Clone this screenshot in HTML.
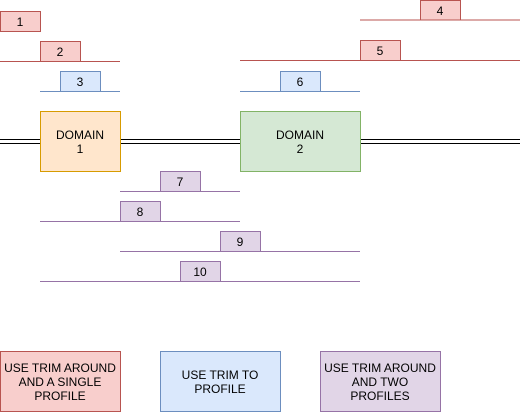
<!DOCTYPE html>
<html><head><meta charset="utf-8"><style>
html,body{margin:0;padding:0;background:#fff;}
svg{display:block;}
text{font-family:"Liberation Sans",Arial,sans-serif;font-size:12px;fill:#000;text-anchor:middle;}
</style></head><body>
<svg width="523" height="413" viewBox="0 0 523 413" xmlns="http://www.w3.org/2000/svg">
<g fill="none" stroke-width="1">
<line x1="0" y1="61.5" x2="120" y2="61.5" stroke="#b85450"/>
<line x1="40" y1="91.5" x2="120" y2="91.5" stroke="#6c8ebf"/>
<line x1="360" y1="20" x2="520" y2="20" stroke="#b85450"/>
<line x1="240" y1="60.5" x2="520" y2="60.5" stroke="#b85450"/>
<line x1="240" y1="91.5" x2="360" y2="91.5" stroke="#6c8ebf"/>
<line x1="120" y1="191.5" x2="240" y2="191.5" stroke="#9673a6"/>
<line x1="40" y1="221.5" x2="240" y2="221.5" stroke="#9673a6"/>
<line x1="120" y1="251.5" x2="360" y2="251.5" stroke="#9673a6"/>
<line x1="40" y1="281.5" x2="360" y2="281.5" stroke="#9673a6"/>
<line x1="0" y1="139.5" x2="520" y2="139.5" stroke="#000"/>
<line x1="0" y1="143.5" x2="520" y2="143.5" stroke="#000"/>
</g>
<g stroke-width="1">
<rect x="0.5" y="11.5" width="40" height="20" fill="#f8cecc" stroke="#b85450"/>
<rect x="40.5" y="41.5" width="40" height="20" fill="#f8cecc" stroke="#b85450"/>
<rect x="60.5" y="71.5" width="40" height="20" fill="#dae8fc" stroke="#6c8ebf"/>
<rect x="420.5" y="0.5" width="40" height="19.5" fill="#f8cecc" stroke="#b85450"/>
<rect x="360.5" y="40.5" width="40" height="20" fill="#f8cecc" stroke="#b85450"/>
<rect x="280.5" y="71.5" width="40" height="20" fill="#dae8fc" stroke="#6c8ebf"/>
<rect x="40.5" y="111.5" width="80" height="60" fill="#ffe6cc" stroke="#d79b00"/>
<rect x="240.5" y="111.5" width="120" height="60" fill="#d5e8d4" stroke="#82b366"/>
<rect x="160.5" y="171.5" width="40" height="20" fill="#e1d5e7" stroke="#9673a6"/>
<rect x="120.5" y="201.5" width="40" height="20" fill="#e1d5e7" stroke="#9673a6"/>
<rect x="220.5" y="231.5" width="40" height="20" fill="#e1d5e7" stroke="#9673a6"/>
<rect x="180.5" y="261.5" width="40" height="20" fill="#e1d5e7" stroke="#9673a6"/>
<rect x="0.5" y="351.5" width="120" height="60" fill="#f8cecc" stroke="#b85450"/>
<rect x="160.5" y="351.5" width="120" height="60" fill="#dae8fc" stroke="#6c8ebf"/>
<rect x="320.5" y="351.5" width="120" height="60" fill="#e1d5e7" stroke="#9673a6"/>
</g>
<text x="20" y="26">1</text>
<text x="60" y="56">2</text>
<text x="80" y="86">3</text>
<text x="440" y="15">4</text>
<text x="380" y="55">5</text>
<text x="300" y="86">6</text>
<text x="80" y="139">DOMAIN</text>
<text x="80" y="153">1</text>
<text x="300" y="139">DOMAIN</text>
<text x="300" y="153">2</text>
<text x="180" y="186">7</text>
<text x="140" y="216">8</text>
<text x="240" y="246">9</text>
<text x="200" y="276">10</text>
<text x="60" y="372">USE TRIM AROUND</text>
<text x="60" y="386">AND A SINGLE</text>
<text x="60" y="400">PROFILE</text>
<text x="220" y="379">USE TRIM TO</text>
<text x="220" y="393">PROFILE</text>
<text x="380" y="372">USE TRIM AROUND</text>
<text x="380" y="386">AND TWO</text>
<text x="380" y="400">PROFILES</text>
</svg>
</body></html>
